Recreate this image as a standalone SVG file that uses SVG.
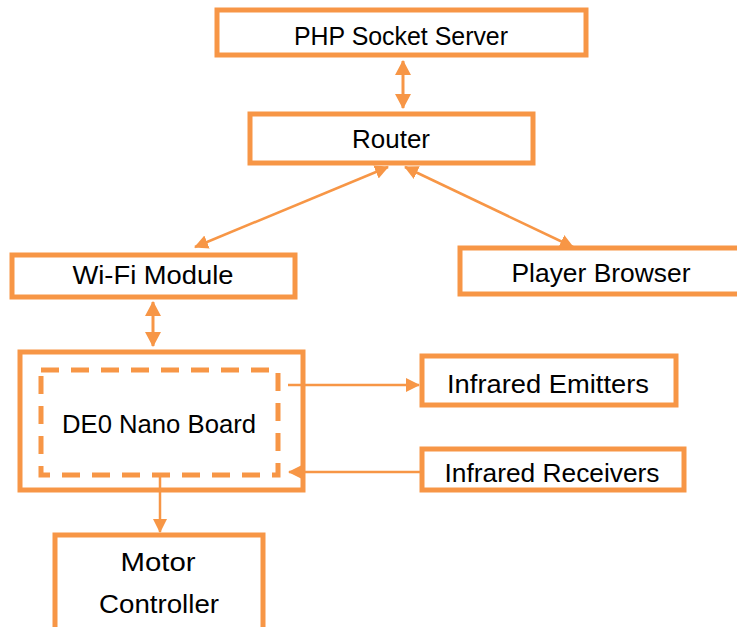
<svg xmlns="http://www.w3.org/2000/svg" width="737" height="627" viewBox="0 0 737 627">
<style>
.box{fill:#fff;stroke:#F79646;stroke-width:5}
.dash{fill:none;stroke:#F79646;stroke-width:5;stroke-dasharray:18,12}
.lbl{font-family:"Liberation Sans",Arial,sans-serif;font-size:25px;fill:#000;text-anchor:middle}
.con{stroke:#F79646;stroke-width:2.5;fill:none}
.thick{stroke:#F79646;stroke-width:3;fill:none}
</style>
<defs>
<marker id="ah" markerUnits="userSpaceOnUse" markerWidth="16" markerHeight="16" refX="14" refY="8" orient="auto-start-reverse" viewBox="0 0 16 16">
<path d="M0,0 L15,8 L0,16 z" fill="#F79646"/>
</marker>
<marker id="ahs" markerUnits="userSpaceOnUse" markerWidth="14" markerHeight="14" refX="13" refY="7" orient="auto-start-reverse" viewBox="0 0 14 14">
<path d="M0,0 L14,7 L0,14 z" fill="#F79646"/>
</marker>
</defs>
<g id="php">
<rect class="box" x="217" y="10" width="369" height="45"/>
<text class="lbl" x="401" y="45" textLength="214" lengthAdjust="spacingAndGlyphs">PHP Socket Server</text>
</g>
<g id="router">
<rect class="box" x="250" y="114" width="283" height="49"/>
<text class="lbl" x="391" y="148" textLength="78" lengthAdjust="spacingAndGlyphs">Router</text>
</g>
<g id="wifi">
<rect class="box" x="12" y="255" width="283" height="42"/>
<text class="lbl" x="153" y="284" textLength="161" lengthAdjust="spacingAndGlyphs">Wi-Fi Module</text>
</g>
<g id="player">
<rect class="box" x="460" y="248" width="282" height="46"/>
<text class="lbl" x="601" y="282" textLength="179" lengthAdjust="spacingAndGlyphs">Player Browser</text>
</g>
<g id="de0">
<rect class="box" x="20" y="352" width="283" height="138"/>
<rect class="dash" x="41" y="370" width="237" height="105"/>
<text class="lbl" x="159" y="433" textLength="194" lengthAdjust="spacingAndGlyphs">DE0 Nano Board</text>
</g>
<g id="emitters">
<rect class="box" x="422" y="356" width="254" height="49"/>
<text class="lbl" x="548" y="393" textLength="202" lengthAdjust="spacingAndGlyphs">Infrared Emitters</text>
</g>
<g id="receivers">
<rect class="box" x="422" y="449" width="262" height="41"/>
<text class="lbl" x="552" y="482" textLength="215" lengthAdjust="spacingAndGlyphs">Infrared Receivers</text>
</g>
<g id="motor">
<rect class="box" x="55" y="535" width="208" height="100"/>
<text class="lbl" x="158" y="571" textLength="75" lengthAdjust="spacingAndGlyphs">Motor</text>
<text class="lbl" x="159" y="613" textLength="120" lengthAdjust="spacingAndGlyphs">Controller</text>
</g>
<g id="connectors">
<line class="thick" x1="403" y1="61" x2="403" y2="108" marker-start="url(#ah)" marker-end="url(#ah)"/>
<line class="con" x1="388" y1="167" x2="195" y2="247" marker-start="url(#ahs)" marker-end="url(#ahs)"/>
<line class="con" x1="405" y1="167" x2="573" y2="247" marker-start="url(#ahs)" marker-end="url(#ahs)"/>
<line class="thick" x1="153" y1="302" x2="153" y2="346" marker-start="url(#ah)" marker-end="url(#ah)"/>
<line class="con" x1="288" y1="385" x2="419" y2="385" marker-end="url(#ahs)"/>
<line class="con" x1="420" y1="472" x2="289" y2="472" marker-end="url(#ahs)"/>
<line class="con" x1="160" y1="475" x2="160" y2="532" marker-end="url(#ahs)"/>
</g>
</svg>
